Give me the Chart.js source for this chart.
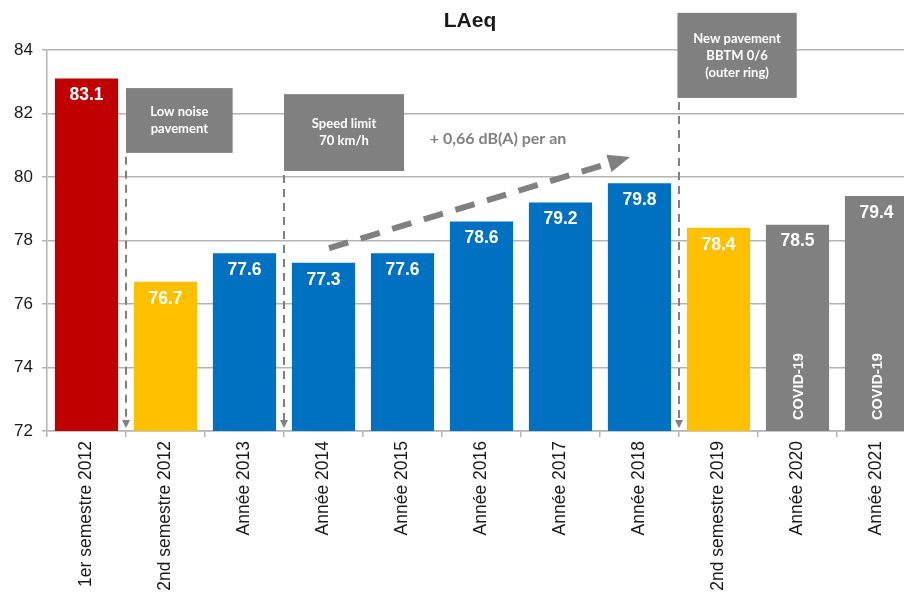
<!DOCTYPE html>
<html>
<head>
<meta charset="utf-8">
<script src="https://cdn.jsdelivr.net/npm/chart.js@4.4.1/dist/chart.umd.min.js"></script>
<style>
  html, body { margin: 0; padding: 0; background: #fff; overflow: hidden; }
  #wrap { width: 920px; height: 593px; }
</style>
</head>
<body>
<div id="wrap"><canvas id="c" width="920" height="593"></canvas></div>
<script>
// LAeq per period
const labels = ['1er semestre 2012', '2nd semestre 2012', 'Année 2013', 'Année 2014', 'Année 2015',
  'Année 2016', 'Année 2017', 'Année 2018', '2nd semestre 2019', 'Année 2020', 'Année 2021'];
const laeq = [83.1, 76.7, 77.6, 77.3, 77.6, 78.6, 79.2, 79.8, 78.4, 78.5, 79.4];
const barNotes = ['', '', '', '', '', '', '', '', '', 'COVID-19', 'COVID-19'];
const yMin = 72, yMax = 84, yStep = 2;

const barColors = ['#C00000', '#FFC000', '#0070C0', '#0070C0', '#0070C0', '#0070C0',
  '#0070C0', '#0070C0', '#FFC000', '#808080', '#808080'];

const grey = '#808080';
const gridColor = '#b4b4b4';

function arrowHead(ctx, x, y, ang, len, half) {
  ctx.save();
  ctx.translate(x, y);
  ctx.rotate(ang);
  ctx.beginPath();
  ctx.moveTo(0, 0);
  ctx.lineTo(-len, -half);
  ctx.lineTo(-len, half);
  ctx.closePath();
  ctx.fill();
  ctx.restore();
}

const overlay = {
  id: 'overlay',
  afterDatasetsDraw(chart) {
    const ctx = chart.ctx;
    const meta = chart.getDatasetMeta(0);
    ctx.save();
    ctx.fillStyle = '#fff';
    ctx.textAlign = 'center';
    ctx.textBaseline = 'middle';
    ctx.font = 'bold 17.5px "Liberation Sans", Arial, sans-serif';
    meta.data.forEach((bar, i) => {
      ctx.fillText(laeq[i].toFixed(1), bar.x, bar.y + 17);
      if (barNotes[i]) {
        ctx.save();
        ctx.translate(bar.x + 1, chart.chartArea.bottom - 11);
        ctx.rotate(-Math.PI / 2);
        ctx.textAlign = 'left';
        ctx.font = 'bold 14.5px "Liberation Sans", Arial, sans-serif';
        ctx.fillText(barNotes[i], 0, 0);
        ctx.restore();
      }
    });
    ctx.restore();
  },
  afterDraw(chart) {
    const ctx = chart.ctx;
    const x = chart.scales.x, y = chart.scales.y;
    const bottom = chart.chartArea.bottom;

    // title
    ctx.save();
    ctx.fillStyle = '#1a1a1a';
    ctx.font = 'bold 21px "Liberation Sans", Arial, sans-serif';
    ctx.textAlign = 'center';
    ctx.textBaseline = 'alphabetic';
    ctx.fillText('LAeq', 470, 27);
    ctx.restore();

    // event boxes with dashed arrows down to the axis
    const boxes = [
      { i0: 0.5, i1: 1.85, v0: 82.8, v1: 80.76, lines: ['Low noise', 'pavement'] },
      { i0: 2.5, i1: 4.02, v0: 82.61, v1: 80.19, lines: ['Speed limit', '70 km/h'] },
      { i0: 7.48, i1: 8.99, v0: 85.17, v1: 82.49, lines: ['New pavement', 'BBTM 0/6', '(outer ring)'] }
    ];
    boxes.forEach(b => {
      const l = x.getPixelForValue(b.i0), r = x.getPixelForValue(b.i1);
      const t = y.getPixelForValue(b.v0), bt = y.getPixelForValue(b.v1);
      ctx.save();
      ctx.fillStyle = grey;
      ctx.fillRect(l, t, r - l, bt - t);
      ctx.fillStyle = '#fff';
      ctx.font = 'bold 13px Lato, "Open Sans", sans-serif';
      ctx.textAlign = 'center';
      ctx.textBaseline = 'middle';
      const cx = (l + r) / 2, cy = (t + bt) / 2, lh = 17;
      b.lines.forEach((s, k) => {
        ctx.fillText(s, cx, cy + (k - (b.lines.length - 1) / 2) * lh);
      });
      // dashed arrow
      const ax = Math.round(x.getPixelForValue(Math.round(b.i0 * 2) / 2));
      ctx.strokeStyle = grey;
      ctx.fillStyle = grey;
      ctx.lineWidth = 2;
      ctx.setLineDash([8, 6]);
      ctx.beginPath();
      ctx.moveTo(ax, bt + 4);
      ctx.lineTo(ax, bottom - 10);
      ctx.stroke();
      ctx.setLineDash([]);
      arrowHead(ctx, ax, bottom - 3, Math.PI / 2, 8, 4);
      ctx.restore();
    });

    // trend arrow
    const sx = x.getPixelForValue(3.07), sy = y.getPixelForValue(77.76);
    const tx = x.getPixelForValue(6.88), ty = y.getPixelForValue(80.63);
    const ang = Math.atan2(ty - sy, tx - sx);
    const headLen = 22;
    const ex = tx - Math.cos(ang) * headLen, ey = ty - Math.sin(ang) * headLen;
    ctx.save();
    ctx.strokeStyle = grey;
    ctx.fillStyle = grey;
    ctx.lineWidth = 6;
    ctx.setLineDash([20, 13]);
    ctx.beginPath();
    ctx.moveTo(sx, sy);
    ctx.lineTo(ex, ey);
    ctx.stroke();
    ctx.setLineDash([]);
    arrowHead(ctx, tx, ty, ang, headLen, 9);
    ctx.font = 'bold 16px Lato, "Open Sans", sans-serif';
    ctx.textAlign = 'center';
    ctx.textBaseline = 'middle';
    ctx.fillText('+ 0,66 dB(A) per an', x.getPixelForValue(5.21), y.getPixelForValue(81.2));
    ctx.restore();
  }
};

new Chart(document.getElementById('c'), {
  type: 'bar',
  data: {
    labels,
    datasets: [{
      data: laeq,
      backgroundColor: barColors,
      borderWidth: 0,
      barPercentage: 0.8,
      categoryPercentage: 1
    }]
  },
  options: {
    responsive: false,
    animation: false,
    devicePixelRatio: 1,
    layout: { padding: { top: 50, right: 4, left: 0, bottom: 0 } },
    plugins: { legend: { display: false }, tooltip: { enabled: false }, title: { display: false } },
    scales: {
      x: {
        afterFit(scale) { scale.height = 162; },
        grid: { drawOnChartArea: false, color: gridColor, lineWidth: 1.5, tickLength: 6 },
        border: { color: gridColor, width: 1.5 },
        ticks: {
          color: '#1a1a1a',
          maxRotation: 90,
          minRotation: 90,
          autoSkip: false,
          padding: 4,
          font: { family: '"Liberation Sans", Arial, sans-serif', size: 17.5 }
        }
      },
      y: {
        min: yMin,
        max: yMax,
        afterFit(scale) { scale.width = 47; },
        grid: { color: gridColor, lineWidth: 1.5, tickLength: 5 },
        border: { color: gridColor, width: 1.5 },
        ticks: {
          stepSize: yStep,
          color: '#1a1a1a',
          padding: 9,
          font: { family: '"Liberation Sans", Arial, sans-serif', size: 17 }
        }
      }
    }
  },
  plugins: [overlay]
});
</script>
</body>
</html>
